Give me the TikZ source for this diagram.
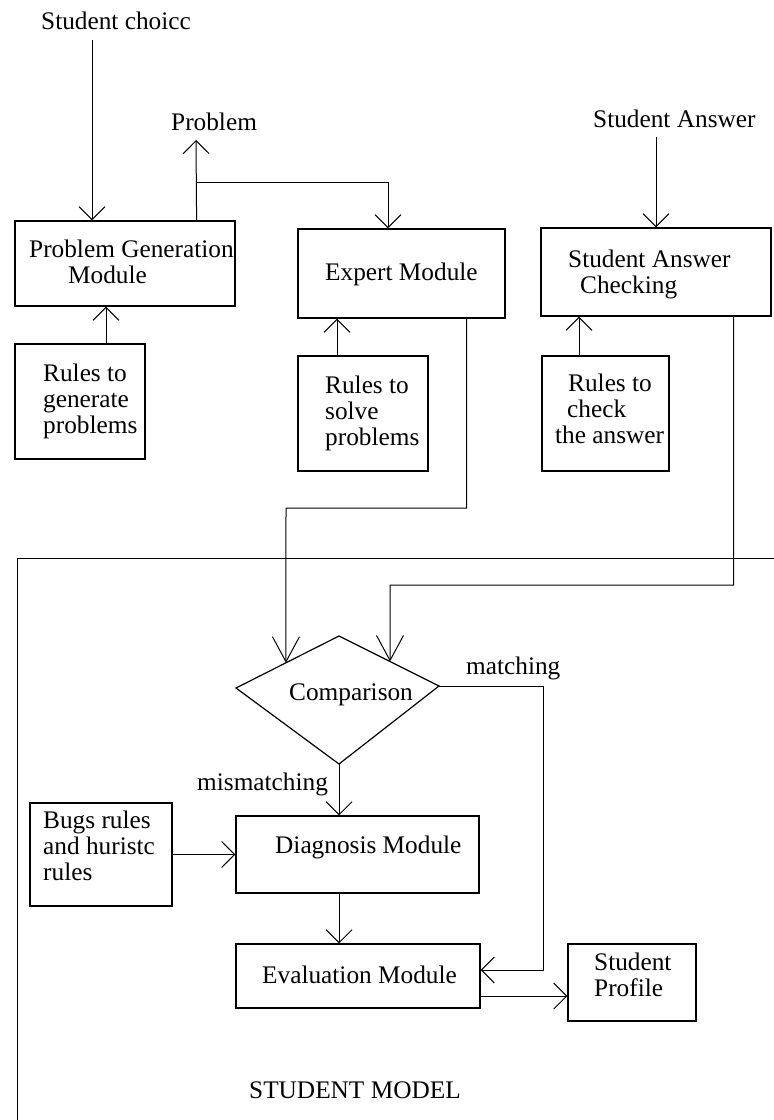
\documentclass[tikz,border=0pt]{standalone}
\usepackage{fontspec}
\setmainfont{Liberation Serif}
\usetikzlibrary{arrows.meta,calc}
\begin{document}
\begin{tikzpicture}[x=1pt,y=-1pt,
  box/.style={draw,line width=1.2pt,inner sep=0pt,rectangle},
  txt/.style={inner sep=0pt,anchor=base west,align=left,font=\fontsize{25.3}{25.8}\selectfont},
  ln/.style={line width=1pt},
  arr/.style={line width=1pt,-{Straight Barb[length=13pt,width=26pt,line width=1pt]}},
  larr/.style={line width=1pt,-{Straight Barb[length=25pt,width=27pt,line width=1pt]}}
]
\useasboundingbox (0,0) rectangle (774,1120);
% boxes
\node[box,minimum width=220pt,minimum height=85pt] (pgm) at (125,263.5) {};
\node[box,minimum width=207pt,minimum height=89pt] (exp) at (401.5,273.5) {};
\node[box,minimum width=230pt,minimum height=88pt] (sac) at (656,272) {};
\node[box,minimum width=130pt,minimum height=115pt] (rgen) at (80,401.5) {};
\node[box,minimum width=130pt,minimum height=115pt] (rsol) at (363,413.5) {};
\node[box,minimum width=127pt,minimum height=115pt] (rchk) at (605.5,413.5) {};
\node[box,minimum width=142pt,minimum height=103pt] (bugs) at (101,854.5) {};
\node[box,minimum width=243pt,minimum height=77pt] (diag) at (357.5,854.5) {};
\node[box,minimum width=244pt,minimum height=64pt] (eval) at (358,976) {};
\node[box,minimum width=128pt,minimum height=77pt] (prof) at (632,982.5) {};
% comparison kite
\coordinate (cmpT) at (339,636);
\coordinate (cmpR) at (439,686);
\coordinate (cmpB) at (339,764);
\coordinate (cmpL) at (236,688);
\draw[ln,line width=1.2pt] (cmpT) -- (cmpR) -- (cmpB) -- (cmpL) -- cycle;
% texts (multi-line nodes are anchored at the baseline of their last line)
\node[txt] (tchoice) at (41,29) {Student choicc};
\node[txt] (tprob) at (171,130) {Problem};
\node[txt] (tans) at (593,127) {Student Answer};
\node[txt] (pgmt) at (29,283) {Problem Generation\\\hspace*{39pt}Module};
\node[txt] (expt) at (325,280) {Expert Module};
\node[txt] (sact) at (568,293) {Student Answer\\\hspace*{12pt}Checking};
\node[txt] (rgent) at (43,433) {Rules to\\generate\\problems};
\node[txt] (rsolt) at (325,445) {Rules to\\solve\\problems};
\node[txt] (rchkt) at (555,443) {\hspace*{13pt}Rules to\\\hspace*{12pt}check\\the answer};
\node[txt] (cmpt) at (289,700) {Comparison};
\node[txt] (tmatch) at (466,674) {matching};
\node[txt] (tmis) at (197,790) {mismatching};
\node[txt] (bugst) at (43,880) {Bugs rules\\and huristc\\rules};
\node[txt] (diagt) at (275,853) {Diagnosis Module};
\node[txt] (evalt) at (262,983) {Evaluation Module};
\node[txt] (proft) at (594,996) {Student\\Profile};
\node[txt] (tsm) at (249,1098) {STUDENT MODEL};
% frame
\coordinate (frTR) at (774,558);
\coordinate (frTL) at (17,558);
\coordinate (frBL) at (17,1120);
\draw[ln] (frTR) -- (frTL) -- (frBL);
% connectors
\coordinate (sc) at (92,40);
\draw[arr] (sc) -- (sc |- pgm.north);
\coordinate (pgmout) at ([xshift=-39pt]pgm.north east);
\coordinate (probtip) at (196,140);
\draw[arr] (pgmout) -- (probtip);
\coordinate (br) at (196,182);
\coordinate (expin) at ([xshift=-13.5pt]exp.north);
\draw[arr] (br) -| (expin);
\coordinate (sa) at (656,137);
\draw[arr] (sa) -- (sac.north);
\coordinate (rgenout) at ([xshift=26pt]rgen.north);
\draw[arr] (rgenout) -- (rgenout |- pgm.south);
\coordinate (rsolout) at ([xshift=-26pt]rsol.north);
\draw[arr] (rsolout) -- (rsolout |- exp.south);
\coordinate (rchkout) at ([xshift=-26.5pt]rchk.north);
\draw[arr] (rchkout) -- (rchkout |- sac.south);
\coordinate (expout) at ([xshift=-39pt]exp.south east);
\coordinate (cmpIn1) at ($(cmpL)!0.485!(cmpT)$);
\coordinate (bend1) at (286,508);
\draw[larr] (expout) |- (bend1) -- (cmpIn1);
\coordinate (sacout) at ([xshift=-38pt]sac.south east);
\coordinate (cmpIn2) at ($(cmpT)!0.51!(cmpR)$);
\coordinate (bend2) at (390,585);
\draw[larr] (sacout) |- (bend2) -- (cmpIn2);
\coordinate (mbend) at (543,686);
\coordinate (evalin) at ([yshift=6pt]eval.east);
\draw[arr] (cmpR) -- (mbend) |- (evalin);
\draw[arr] (cmpB) -- (cmpB |- diag.north);
\draw[arr] (cmpB |- diag.south) -- (cmpB |- eval.north);
\draw[arr] (bugs.east) -- (diag.west);
\coordinate (evalout) at ([yshift=-20pt]eval.east);
\draw[arr] (evalout) -- (evalout -| prof.west);
\end{tikzpicture}
\end{document}
